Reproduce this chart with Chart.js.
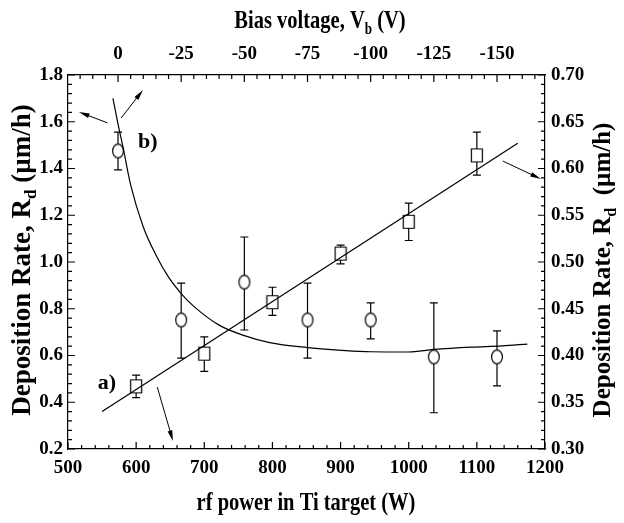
<!DOCTYPE html>
<html>
<head>
<meta charset="utf-8">
<script src="https://cdn.jsdelivr.net/npm/chart.js@4.4.1/dist/chart.umd.min.js"></script>
<style>
  html, body { margin: 0; padding: 0; background: #fff; }
</style>
</head>
<body>
<canvas id="chart" width="624" height="523"></canvas>
<script>
// a) rate vs rf power (bottom axis / right axis)
const rfPower = [600, 700, 800, 900, 1000, 1100];
const rateA   = [0.367, 0.402, 0.457, 0.509, 0.543, 0.614];
const rateAHi = [0.379, 0.420, 0.473, 0.518, 0.563, 0.639];
const rateALo = [0.355, 0.383, 0.443, 0.498, 0.523, 0.593];
const fitAX = [550, 1160];
const fitAY = [0.340, 0.627];

// b) rate vs bias voltage (top axis / left axis)
const biasV   = [0, -25, -50, -75, -100, -125, -150];
const rateB   = [1.475, 0.752, 0.914, 0.752, 0.752, 0.594, 0.594];
const rateBHi = [1.556, 0.910, 1.107, 0.910, 0.825, 0.825, 0.705];
const rateBLo = [1.394, 0.589, 0.709, 0.589, 0.671, 0.355, 0.470];
const fitBX = [2, 0, -2, -5, -10, -15, -20, -25, -30, -40, -50, -60, -75, -90, -100, -115, -125, -140, -152, -162];
const fitBY = [1.70, 1.59, 1.49, 1.33, 1.15, 1.03, 0.935, 0.865, 0.81, 0.73, 0.685, 0.655, 0.634, 0.621, 0.616, 0.615, 0.626, 0.636, 0.641, 0.649];

// tick labels
const bottomTicks = [500, 600, 700, 800, 900, 1000, 1100, 1200];
const topTicks = [0, -25, -50, -75, -100, -125, -150];
const leftTicks = [0.2, 0.4, 0.6, 0.8, 1.0, 1.2, 1.4, 1.6, 1.8];
const rightTicks = [0.30, 0.35, 0.40, 0.45, 0.50, 0.55, 0.60, 0.65, 0.70];

// annotations, in bottom/left axis units: [x1, y1, x2, y2] tail -> head
const arrows = [
    [558, 1.595, 516, 1.642],
    [578, 1.616, 610, 1.736],
    [631, 0.465, 654, 0.234],
    [1138, 1.432, 1194, 1.355]
];
const tags = [['a)', 557, 0.48], ['b)', 617, 1.513]];

const FONT = '"Liberation Serif", "Times New Roman", serif';

// open markers
function marker(w, h, oval) {
    const c = document.createElement('canvas');
    c.width = w + 2; c.height = h + 2;
    const g = c.getContext('2d');
    g.fillStyle = '#fff';
    g.strokeStyle = '#000';
    g.lineWidth = 1.2;
    g.beginPath();
    if (oval) g.ellipse(c.width / 2, c.height / 2, w / 2 - 0.6, h / 2 - 0.6, 0, 0, Math.PI * 2);
    else g.rect(1.5, 1.5, w - 1, h - 1);
    g.fill();
    g.stroke();
    return c;
}
const squareImg = marker(12, 14, false);
const ovalImg = marker(12, 15, true);

function richText(ctx, parts, size) {
    let w = 0;
    parts.forEach(([t, sub]) => {
        ctx.font = 'bold ' + (sub ? Math.round(size * 0.62) : size) + 'px ' + FONT;
        w += ctx.measureText(t).width;
    });
    let x = -w / 2;
    ctx.textBaseline = 'middle';
    ctx.textAlign = 'left';
    parts.forEach(([t, sub]) => {
        ctx.font = 'bold ' + (sub ? Math.round(size * 0.62) : size) + 'px ' + FONT;
        ctx.fillText(t, x, sub ? size * 0.32 : 0);
        x += ctx.measureText(t).width;
    });
}

function drawArrow(ctx, x1, y1, x2, y2) {
    const a = Math.atan2(y2 - y1, x2 - x1);
    ctx.beginPath();
    ctx.moveTo(x1, y1);
    ctx.lineTo(x2 - 6 * Math.cos(a), y2 - 6 * Math.sin(a));
    ctx.stroke();
    ctx.beginPath();
    ctx.moveTo(x2, y2);
    ctx.lineTo(x2 - 11 * Math.cos(a - 0.22), y2 - 11 * Math.sin(a - 0.22));
    ctx.lineTo(x2 - 11 * Math.cos(a + 0.22), y2 - 11 * Math.sin(a + 0.22));
    ctx.closePath();
    ctx.fill();
}

const decor = {
    id: 'decor',
    beforeDatasetsDraw(chart) {
        const ctx = chart.ctx;
        const s = chart.scales;
        ctx.save();
        ctx.strokeStyle = '#000';
        ctx.lineWidth = 1.2;
        const bar = (x, yh, yl) => {
            ctx.beginPath();
            ctx.moveTo(x, yh); ctx.lineTo(x, yl);
            ctx.moveTo(x - 4, yh); ctx.lineTo(x + 4, yh);
            ctx.moveTo(x - 4, yl); ctx.lineTo(x + 4, yl);
            ctx.stroke();
        };
        rfPower.forEach((p, i) => bar(s.x.getPixelForValue(p), s.yR.getPixelForValue(rateAHi[i]), s.yR.getPixelForValue(rateALo[i])));
        biasV.forEach((v, i) => bar(s.xTop.getPixelForValue(v), s.yL.getPixelForValue(rateBHi[i]), s.yL.getPixelForValue(rateBLo[i])));
        ctx.restore();
    },
    afterDraw(chart) {
        const ctx = chart.ctx;
        const s = chart.scales;
        const area = chart.chartArea;
        ctx.save();
        ctx.strokeStyle = '#000';
        ctx.fillStyle = '#000';
        ctx.lineWidth = 1.2;

        // inward ticks, major + minor
        const tickSet = [
            [s.x, 100, 5, area.bottom, -1],
            [s.xTop, 25, 5, area.top, 1],
            [s.yL, 0.2, 5, area.left, 1],
            [s.yR, 0.05, 5, area.right, -1]
        ];
        tickSet.forEach(([sc, step, n, edge, dir]) => {
            const minor = step / n;
            const lo = Math.min(sc.min, sc.max), hi = Math.max(sc.min, sc.max);
            const start = Math.ceil(lo / minor - 1e-6);
            const end = Math.floor(hi / minor + 1e-6);
            ctx.beginPath();
            for (let k = start; k <= end; k++) {
                const v = k * minor;
                const major = Math.abs(k % n) === 0;
                const len = major ? 7 : 4;
                const p = sc.getPixelForValue(v);
                if (sc.isHorizontal()) {
                    ctx.moveTo(p, edge); ctx.lineTo(p, edge + dir * len);
                } else {
                    ctx.moveTo(edge, p); ctx.lineTo(edge + dir * len, p);
                }
            }
            ctx.stroke();
        });

        // arrows pointing at the axes, series tags
        ctx.lineWidth = 1;
        arrows.forEach(([a, b, c, d]) => drawArrow(ctx,
            s.x.getPixelForValue(a), s.yL.getPixelForValue(b),
            s.x.getPixelForValue(c), s.yL.getPixelForValue(d)));
        tags.forEach(([t, x, y]) => {
            ctx.font = 'bold 22px ' + FONT;
            ctx.textAlign = 'center';
            ctx.textBaseline = 'middle';
            ctx.fillText(t, s.x.getPixelForValue(x), s.yL.getPixelForValue(y));
        });

        // axis titles
        const midY = (area.top + area.bottom) / 2;
        ctx.save();
        ctx.translate(320, 22);
        ctx.scale(0.82, 1);
        richText(ctx, [['Bias voltage, V', false], ['b', true], [' (V)', false]], 25);
        ctx.restore();

        ctx.save();
        ctx.translate(306, 504);
        ctx.scale(0.82, 1);
        richText(ctx, [['rf power in Ti target (W)', false]], 25);
        ctx.restore();

        ctx.save();
        ctx.translate(23, midY - 2);
        ctx.rotate(-Math.PI / 2);
        richText(ctx, [['Deposition Rate, R', false], ['d', true], [' (\u00b5m/h)', false]], 27);
        ctx.restore();

        ctx.save();
        ctx.translate(604, midY + 8);
        ctx.rotate(-Math.PI / 2);
        richText(ctx, [['Deposition Rate, R', false], ['d', true], ['  (\u00b5m/h)', false]], 25);
        ctx.restore();

        ctx.restore();
    }
};

function axis(pos, min, max, ticks, fmt, pad, size, extra) {
    return Object.assign({
        type: 'linear',
        position: pos,
        min: min,
        max: max,
        grid: { display: false, drawTicks: false },
        border: { display: true, color: '#000', width: 1.2 },
        afterBuildTicks: sc => { sc.ticks = ticks.map(v => ({ value: v })); },
        afterFit: sc => {
            if (sc.isHorizontal()) sc.height = size; else sc.width = size;
        },
        ticks: {
            autoSkip: false,
            maxRotation: 0,
            padding: pad,
            color: '#000',
            font: { family: FONT, weight: 'bold', size: 19 },
            callback: v => fmt(v)
        }
    }, extra || {});
}

const pts = (xs, ys) => xs.map((x, i) => ({ x: x, y: ys[i] }));

new Chart(document.getElementById('chart'), {
    type: 'scatter',
    data: {
        datasets: [
            {
                label: 'a) fit', type: 'line', data: pts(fitAX, fitAY),
                xAxisID: 'x', yAxisID: 'yR',
                borderColor: '#000', borderWidth: 1.2, pointRadius: 0, fill: false
            },
            {
                label: 'b) fit', type: 'line', data: pts(fitBX, fitBY),
                xAxisID: 'xTop', yAxisID: 'yL',
                borderColor: '#000', borderWidth: 1.2, pointRadius: 0, fill: false,
                cubicInterpolationMode: 'monotone'
            },
            {
                label: 'a)', data: pts(rfPower, rateA),
                xAxisID: 'x', yAxisID: 'yR',
                pointStyle: squareImg, pointRadius: 6
            },
            {
                label: 'b)', data: pts(biasV, rateB),
                xAxisID: 'xTop', yAxisID: 'yL',
                pointStyle: ovalImg, pointRadius: 6
            }
        ]
    },
    options: {
        responsive: false,
        animation: false,
        layout: { padding: 0 },
        plugins: { legend: { display: false }, tooltip: { enabled: false } },
        scales: {
            x: axis('bottom', 500, 1200, bottomTicks, v => String(v), 8, 74),
            xTop: axis('top', -169, 19.8, topTicks, v => String(v), 10, 75, { reverse: true }),
            yL: axis('left', 0.2, 1.8, leftTicks, v => v.toFixed(1), 5, 68),
            yR: axis('right', 0.30, 0.70, rightTicks, v => v.toFixed(2), 6, 79)
        }
    },
    plugins: [decor]
});
</script>
</body>
</html>
